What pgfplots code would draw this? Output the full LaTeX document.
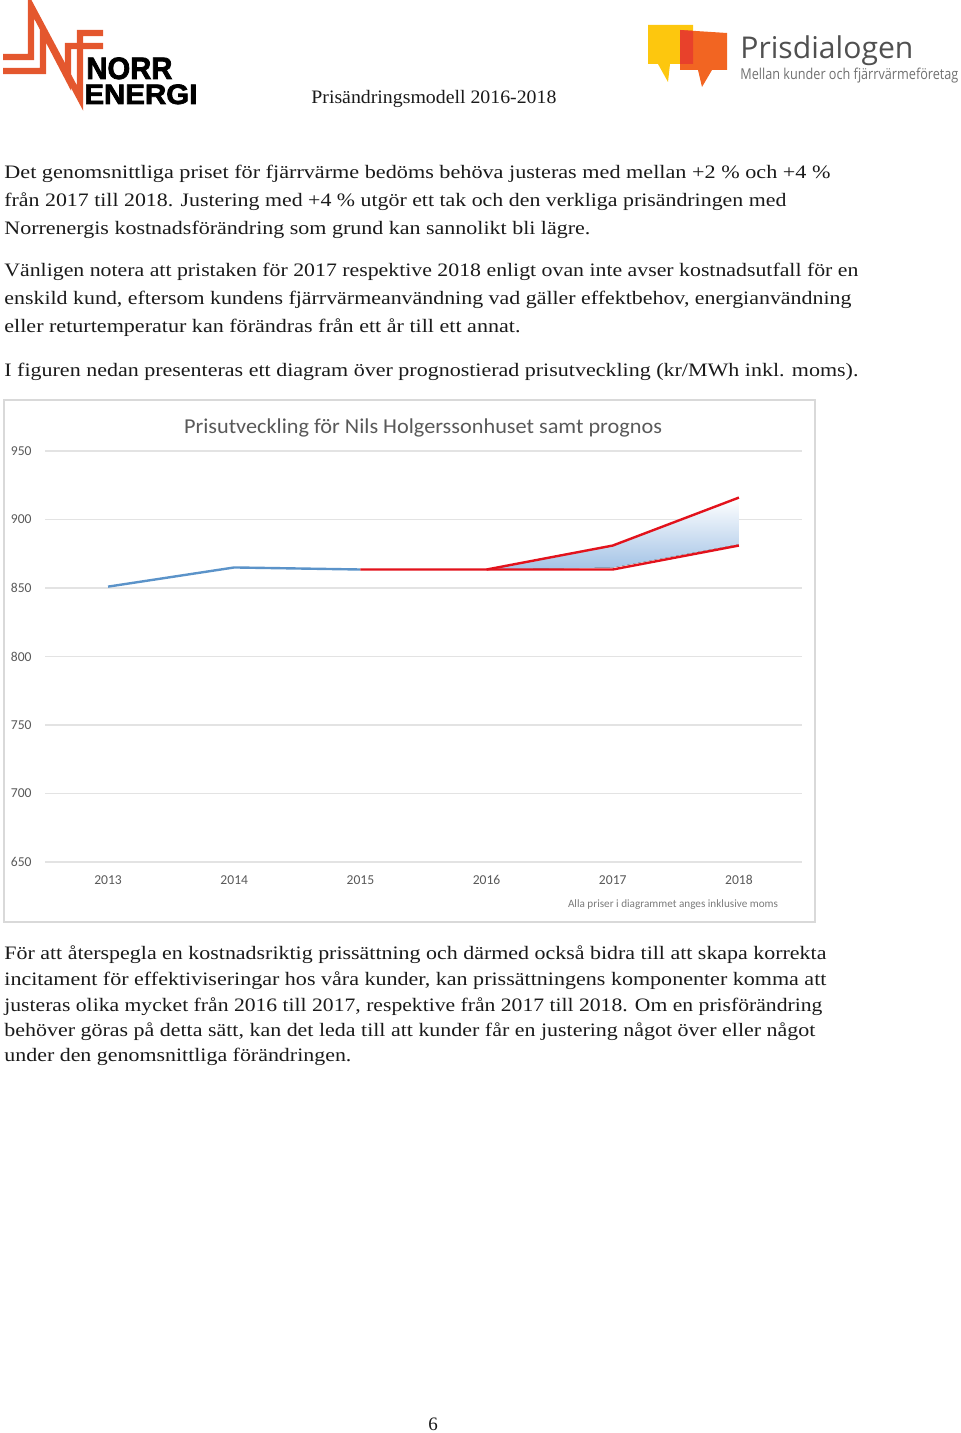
\documentclass[border=0pt]{standalone}
\usepackage{fontspec}
\setmainfont{Liberation Serif}
\newfontfamily\carlito{Carlito}
\newfontfamily\osans{Open Sans}
\newfontfamily\lsansb[FakeBold=2.5]{Liberation Sans Bold}
\usepackage{graphicx}
\usepackage{pgfplots}
\pgfplotsset{compat=1.18}
\usepgfplotslibrary{fillbetween}
\definecolor{txt}{HTML}{1A1A1A}
\definecolor{ne}{HTML}{E4572E}
\definecolor{pdyel}{HTML}{FDC70E}
\definecolor{pdor}{HTML}{F26522}
\definecolor{pdred}{HTML}{E8412B}
\definecolor{pdgray}{HTML}{505050}
\definecolor{pdlgray}{HTML}{707070}
\definecolor{lblue}{HTML}{5B93C9}
\definecolor{lred}{HTML}{E2121C}
\definecolor{fblue}{HTML}{A3C3E6}
\definecolor{gridc}{HTML}{E3E3E3}
\definecolor{ticc}{HTML}{595959}
\definecolor{frame}{HTML}{D9D9D9}
\newcommand\fit[2]{\resizebox{#1pt}{\height}{#2}}
\begin{document}
\begin{tikzpicture}
\begin{scope}[x=0.5pt,y=-0.5pt]
\path[use as bounding box] (0,0) rectangle (960,1433);
% Norr Energi logo
\draw[ne, line width=3.2pt, line join=miter] (3,57) -- (31,57) -- (31,6) -- (80,98) -- (80,33) -- (103,33);
\draw[ne, line width=3.2pt, line join=miter] (3,71) -- (43,71) -- (43,30) -- (68,78) -- (68,46) -- (103,46);
\node[anchor=base west, inner sep=0pt, text=black] at (84,104) {\rlap{\hspace{1pt}\raisebox{12.5pt}{\resizebox{43pt}{10.8pt}{\lsansb NORR}}}\resizebox{56.5pt}{9.8pt}{\lsansb ENERGI}};
% Prisdialogen logo
\fill[pdyel] (648,25) -- (693,25) -- (693,64) -- (670,64) -- (668,82) -- (658,64) -- (648,64) -- cycle;
\fill[pdor] (680,30) -- (727,33) -- (727,70) -- (712,70) -- (702,87) -- (698,70) -- (680,70) -- cycle;
\fill[pdred] (680,30) -- (693,30.8) -- (693,64) -- (680,64) -- cycle;
\node[anchor=base west, inner sep=0pt, text=pdgray] at (740,59) {\fit{86.5}{\osans\fontsize{15}{17}\selectfont Prisdialogen}};
\node[anchor=base west, inner sep=0pt, text=pdlgray] at (740,80) {\fit{109}{\osans\fontsize{7.5}{9}\selectfont Mellan kunder och fjärrvärmeföretag}};
% header
\node[anchor=base west, inner sep=0pt, text=txt] at (311,104) {\fit{122.5}{\fontsize{9.5}{11}\selectfont Prisändringsmodell 2016-2018}};
% paragraph text
\begin{scope}[every node/.style={anchor=base west, inner sep=0pt, text=txt, font=\fontsize{9.5}{11}\selectfont}]
\node at (4,179) {\fit{413}{Det genomsnittliga priset för fjärrvärme bedöms behöva justeras med mellan +2 \% och +4 \%}};
\node at (4,207) {\fit{391}{från 2017 till 2018. Justering med +4 \% utgör ett tak och den verkliga prisändringen med}};
\node at (4,235) {\fit{293}{Norrenergis kostnadsförändring som grund kan sannolikt bli lägre.}};
\node at (4,277) {\fit{427}{Vänligen notera att pristaken för 2017 respektive 2018 enligt ovan inte avser kostnadsutfall för en}};
\node at (4,305) {\fit{423.5}{enskild kund, eftersom kundens fjärrvärmeanvändning vad gäller effektbehov, energianvändning}};
\node at (4,333) {\fit{258}{eller returtemperatur kan förändras från ett år till ett annat.}};
\node at (4,376) {\fit{427}{I figuren nedan presenteras ett diagram över prognostierad prisutveckling (kr/MWh inkl. moms).}};
\node at (4,959.5) {\fit{411}{För att återspegla en kostnadsriktig prissättning och därmed också bidra till att skapa korrekta}};
\node at (4,985) {\fit{411}{incitament för effektiviseringar hos våra kunder, kan prissättningens komponenter komma att}};
\node at (4,1011) {\fit{409}{justeras olika mycket från 2016 till 2017, respektive från 2017 till 2018. Om en prisförändring}};
\node at (4,1036.5) {\fit{405.5}{behöver göras på detta sätt, kan det leda till att kunder får en justering något över eller något}};
\node at (4,1061.5) {\fit{173.5}{under den genomsnittliga förändringen.}};
\end{scope}
\node[anchor=base, inner sep=0pt, text=txt, font=\fontsize{9.5}{11}\selectfont] at (433,1430) {6};
% chart frame and texts
\draw[frame, line width=0.7pt] (4,400) rectangle (815,922);
\node[inner sep=0pt, text=ticc] at (423,428) {\fit{239}{\carlito\fontsize{10.6}{12}\selectfont Prisutveckling för Nils Holgerssonhuset samt prognos}};
\node[inner sep=0pt, text=ticc!80] at (673,905) {\fit{105}{\carlito\fontsize{5.6}{7}\selectfont Alla priser i diagrammet anges inklusive moms}};
\end{scope}
\begin{axis}[
  at={(22.5pt,-431pt)}, anchor=south west,
  scale only axis, width=378.5pt, height=205.5pt,
  xmin=2012.5, xmax=2018.5, ymin=650, ymax=950,
  axis line style={draw=none},
  ymajorgrids, major grid style={gridc, line width=0.6pt},
  major tick length=0pt,
  xtick={2013,2014,2015,2016,2017,2018},
  xticklabels={2013,2014,2015,2016,2017,2018},
  ytick={650,700,750,800,850,900,950},
  yticklabels={650,700,750,800,850,900,950},
  tick label style={font=\carlito\fontsize{6.8}{8}\selectfont, text=ticc},
  yticklabel style={inner sep=0pt, anchor=east, xshift=-6.5pt},
  xticklabel style={inner sep=0pt, anchor=base, yshift=-11pt},
  clip=false,
]
\addplot[name path=lower, draw=none, forget plot] coordinates {(2015,863.5) (2016,863.5) (2017,865) (2018,882)};
\addplot[name path=upper, draw=none, forget plot] coordinates {(2016,863.5) (2017,881) (2018,916)};
\addplot[top color=white, bottom color=fblue, draw=none] fill between[of=upper and lower, soft clip={domain=2016:2018}];
\addplot[lblue, line width=1.2pt] coordinates {(2013,851) (2014,865) (2015,863.5)};
\addplot[lred, line width=1.2pt] coordinates {(2015,863.5) (2016,863.5) (2017,863.5) (2018,881)};
\addplot[lred, line width=1.2pt] coordinates {(2016,863.5) (2017,881) (2018,916)};
\end{axis}
\end{tikzpicture}
\end{document}
